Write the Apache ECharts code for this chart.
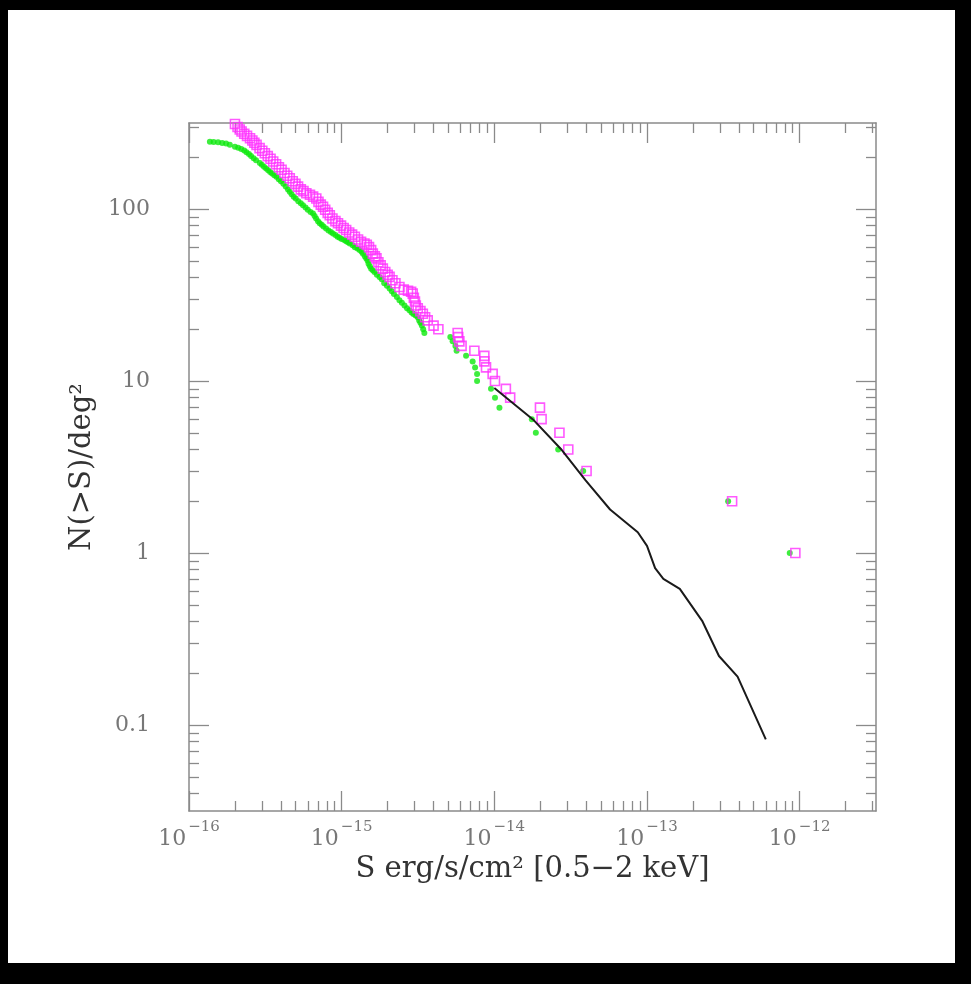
<!DOCTYPE html>
<html><head><meta charset="utf-8">
<script src="https://cdn.jsdelivr.net/npm/echarts@6/dist/echarts.min.js"></script>
<style>
html,body{margin:0;padding:0;background:#000;width:971px;height:984px;overflow:hidden}
#paper{position:absolute;left:8px;top:10px;width:947px;height:953px;background:#fff}
#chart{position:absolute;left:0;top:0;width:971px;height:984px}
</style></head><body>
<div id="paper"></div><div id="chart"></div>
<script>
// ---- data ----
const greenS = [1.37e-16,1.45e-16,1.55e-16,1.65e-16,1.75e-16,1.85e-16,2.0e-16,2.1e-16,2.2e-16,2.3e-16,2.38e-16,2.47e-16,2.55e-16,2.65e-16,2.75e-16,2.91e-16,3.0e-16,3.1e-16,3.2e-16,3.3e-16,3.4e-16,3.5e-16,3.62e-16,3.74e-16,3.87e-16,4.0e-16,4.15e-16,4.3e-16,4.45e-16,4.57e-16,4.7e-16,4.85e-16,5.0e-16,5.2e-16,5.4e-16,5.58e-16,5.8e-16,6.0e-16,6.25e-16,6.49e-16,6.65e-16,6.8e-16,7.0e-16,7.18e-16,7.4e-16,7.6e-16,7.9e-16,8.2e-16,8.5e-16,8.77e-16,9.1e-16,9.4e-16,9.7e-16,1.0e-15,1.04e-15,1.07e-15,1.1e-15,1.13e-15,1.18e-15,1.22e-15,1.27e-15,1.31e-15,1.35e-15,1.38e-15,1.42e-15,1.45e-15,1.48e-15,1.5e-15,1.53e-15,1.56e-15,1.6e-15,1.64e-15,1.7e-15,1.77e-15,1.83e-15,1.9e-15,1.98e-15,2.06e-15,2.13e-15,2.2e-15,2.3e-15,2.39e-15,2.48e-15,2.58e-15,2.68e-15,2.78e-15,2.87e-15,2.95e-15,3.05e-15,3.15e-15,3.22e-15,3.28e-15,3.35e-15,3.42e-15,3.48e-15,5.15e-15,5.33e-15,5.56e-15,5.66e-15,6.53e-15,7.21e-15,7.48e-15,7.71e-15,7.71e-15,9.51e-15,1.01e-14,1.08e-14,1.76e-14,1.87e-14,2.62e-14,3.82e-14,3.40e-13,8.61e-13];
const greenN = [246,245,244,242,240,236,230,227,223,219,214,209,203,197,192,185,181,176,172,168,164,161,157,154,149,145,140,135,130,126,122,118,115,111,108,105,102,99,96,94,91,88,85,82.6,81,79,77,75,73.5,72,70.5,69,68,67,66,65,64,63,61.5,60,59,57.7,56.5,55,53,51.6,50,48,46.5,45,44,43,41.5,40.3,39,37,35.8,34.5,33.2,32,30.8,29.5,28.5,27.5,26.5,25.8,25,24.5,24,23.5,22.5,21.8,21,20,19,18,17,16,15,14,13,12,11,10,9,8,7,6,5,4,3,2,1];

const magentaS = [2.0e-16,2.08e-16,2.15e-16,2.21e-16,2.3e-16,2.4e-16,2.51e-16,2.6e-16,2.68e-16,2.77e-16,2.9e-16,3.02e-16,3.14e-16,3.28e-16,3.42e-16,3.56e-16,3.72e-16,3.88e-16,4.04e-16,4.22e-16,4.4e-16,4.57e-16,4.78e-16,4.98e-16,5.18e-16,5.4e-16,5.62e-16,5.87e-16,6.2e-16,6.5e-16,6.82e-16,7.05e-16,7.3e-16,7.55e-16,7.8e-16,8.1e-16,8.36e-16,8.7e-16,9.1e-16,9.46e-16,9.9e-16,1.03e-15,1.07e-15,1.12e-15,1.17e-15,1.22e-15,1.28e-15,1.34e-15,1.41e-15,1.46e-15,1.51e-15,1.56e-15,1.6e-15,1.65e-15,1.69e-15,1.74e-15,1.8e-15,1.86e-15,1.93e-15,2.0e-15,2.06e-15,2.15e-15,2.25e-15,2.39e-15,2.55e-15,2.72e-15,2.85e-15,2.92e-15,2.97e-15,3.02e-15,3.06e-15,3.15e-15,3.28e-15,3.40e-15,3.52e-15,3.66e-15,4.0e-15,4.3e-15,5.75e-15,5.8e-15,5.9e-15,6.1e-15,7.4e-15,8.6e-15,8.6e-15,8.82e-15,9.75e-15,1.01e-14,1.19e-14,1.27e-14,1.99e-14,2.04e-14,2.67e-14,3.05e-14,4.02e-14,3.61e-13,9.37e-13];
const magentaN = [312,300,290,282,274,266,258,250,243,236,226,218,211,203,196,189,182,175,169,162,156,151,145,140,135,130,127,123.5,121,118,115,110,106,103,99,95,92,88,85,82.6,80,77.5,75.5,73,71,69,66.5,64.5,63,62,60,57.7,55,53,51.6,49,47,45,43,41.5,40.3,38.5,37,35.2,34,33.5,33,32.2,30.5,29,27.5,26.5,25.5,24.6,23.5,22.5,21,20,19,18,17,16,15,14,13,12,11,10,9,8,7,6,5,4,3,2,1];

const modelS = [1.0e-14,1.79e-14,2.72e-14,3.95e-14,5.73e-14,8.7e-14,1.0e-13,1.13e-13,1.28e-13,1.64e-13,2.31e-13,2.96e-13,3.92e-13,6.0e-13];
const modelN = [9.1,5.98,4.04,2.65,1.79,1.32,1.10,0.817,0.708,0.619,0.40,0.252,0.191,0.0824];

const xTickLabels = [1e-16,1e-15,1e-14,1e-13,1e-12];
const yTickLabels = [0.1,1,10,100];
const xRange = [1e-16, Math.pow(10,-11.5)];
const yRange = [Math.pow(10,-1.5), Math.pow(10,2.5)];

// ---- helpers ----
function minorTicks(range){
  const out=[];
  const lo=Math.floor(Math.log10(range[0]))-1, hi=Math.ceil(Math.log10(range[1]))+1;
  for(let e=lo;e<=hi;e++){for(let k=2;k<=9;k++){const v=k*Math.pow(10,e); if(v>=range[0]&&v<=range[1]) out.push(v);}}
  return out;
}
const AX='#8a8a8a';
const LBL='#777777';
const FONT='DejaVu Serif';
function zip(a,b){return a.map((v,i)=>[v,b[i]]);}

function xAxisDef(pos,len,ticks,withLabels,withLine){
  return {
    type:'log', logBase:10, position:pos, min:xRange[0], max:xRange[1],
    axisLine:{show:withLine, lineStyle:{color:AX,width:1.5}},
    axisTick:{show:true, inside:true, length:len, customValues:ticks, lineStyle:{color:AX,width:1.3}},
    axisLabel:withLabels?{
      show:true, margin:9, customValues:xTickLabels,
      formatter:function(v){const e=Math.round(Math.log10(v)); return '{b|10}{s|\u2212'+Math.abs(e)+'}';},
      rich:{b:{fontSize:22,fontFamily:FONT,color:LBL,lineHeight:30,verticalAlign:'bottom'},
            s:{fontSize:15,fontFamily:FONT,color:LBL,verticalAlign:'top',lineHeight:18,padding:[0,0,0,2]}}
    }:{show:false},
    splitLine:{show:false},
    name: withLabels ? 'S erg/s/cm\u00b2 [0.5\u22122 keV]' : '',
    nameLocation:'middle', nameGap:42,
    nameTextStyle:{fontSize:29,fontFamily:FONT,color:'#333'}
  };
}
function yAxisDef(pos,len,ticks,withLabels,withLine){
  return {
    type:'log', logBase:10, position:pos, min:yRange[0], max:yRange[1],
    axisLine:{show:withLine, lineStyle:{color:AX,width:1.5}},
    axisTick:{show:true, inside:true, length:len, customValues:ticks, lineStyle:{color:AX,width:1.3}},
    axisLabel:withLabels?{
      show:true, margin:39, customValues:yTickLabels,
      formatter:function(v){return String(Number(v.toPrecision(3)));},
      fontSize:22, fontFamily:FONT, color:LBL
    }:{show:false},
    splitLine:{show:false},
    name: withLabels ? 'N(>S)/deg\u00b2' : '',
    nameLocation:'middle', nameGap:74,
    nameTextStyle:{fontSize:29,fontFamily:FONT,color:'#333'}
  };
}

const xMin = minorTicks(xRange), yMin = minorTicks(yRange);

const chart = echarts.init(document.getElementById('chart'), null, {renderer:'canvas'});
chart.setOption({
  animation:false,
  backgroundColor:'transparent',
  grid:{left:189, top:123, width:687, height:688, containLabel:false},
  xAxis:[
    xAxisDef('bottom',20,xTickLabels,true,true),
    xAxisDef('bottom',10,xMin,false,false),
    xAxisDef('top',20,xTickLabels,false,true),
    xAxisDef('top',10,xMin,false,false)
  ],
  yAxis:[
    yAxisDef('left',20,yTickLabels,true,true),
    yAxisDef('left',10,yMin,false,false),
    yAxisDef('right',20,yTickLabels,false,true),
    yAxisDef('right',10,yMin,false,false)
  ],
  series:[
    {type:'scatter', name:'green', xAxisIndex:0, yAxisIndex:0, data:zip(greenS,greenN),
     symbol:'circle', symbolSize:6, itemStyle:{color:'#0ee80e'}, z:2},
    {type:'scatter', name:'magenta', xAxisIndex:0, yAxisIndex:0, data:zip(magentaS,magentaN),
     symbol:'rect', symbolSize:9, itemStyle:{color:'rgba(255,255,255,0)', borderColor:'#ff30ff', borderWidth:1.6}, z:3},
    {type:'line', name:'model', xAxisIndex:0, yAxisIndex:0, data:zip(modelS,modelN),
     showSymbol:false, symbol:'none', lineStyle:{color:'#1a1a1a',width:2}, z:4}
  ]
});
</script>
</body></html>
